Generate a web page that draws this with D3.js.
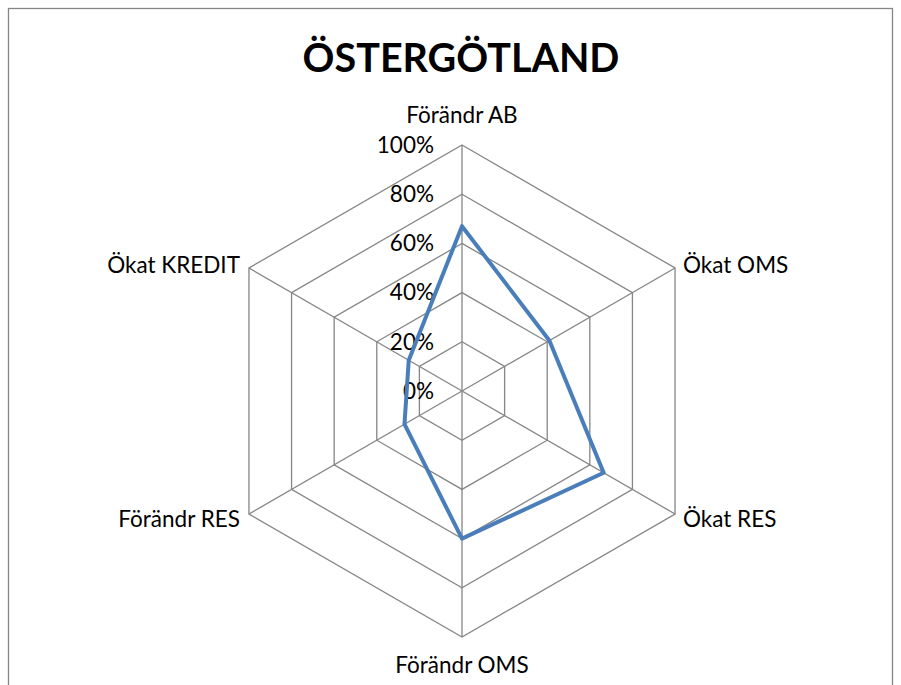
<!DOCTYPE html>
<html><head><meta charset="utf-8">
<script src="https://cdn.jsdelivr.net/npm/d3@7"></script>
<style>body{margin:0;background:#fff}</style>
</head><body>
<svg id="chart" width="901" height="685"></svg>
<script>
const title = "ÖSTERGÖTLAND";
const categories = ["Förändr AB","Ökat OMS","Ökat RES","Förändr OMS","Förändr RES","Ökat KREDIT"];
const values = [0.67, 0.41, 0.665, 0.60, 0.27, 0.25];
const tickValues = [0, 0.2, 0.4, 0.6, 0.8, 1.0];
const tickLabels = ["0%","20%","40%","60%","80%","100%"];

const svg = d3.select("#chart");
const font = "Lato, 'Open Sans', sans-serif";
const cx = 462, cy = 391, R = 246;
const fs = 22.5;
const r = d3.scaleLinear().domain([0,1]).range([0,R]);
const ang = d3.scalePoint().domain(categories).range([0, 2*Math.PI*(categories.length-1)/categories.length]);
const pt = (c, v) => [cx + r(v)*Math.sin(ang(c)), cy - r(v)*Math.cos(ang(c))];

svg.append("rect").attr("x",8.5).attr("y",8.5).attr("width",884).attr("height",690)
  .attr("fill","#fff").attr("stroke","#868686").attr("stroke-width",1.3);

svg.append("text").attr("x",461).attr("y",72).attr("text-anchor","middle")
  .attr("font-family",font).attr("font-weight","bold").attr("font-size",39.5).text(title);

const g = svg.append("g");
// rings
tickValues.slice(1).forEach(t => {
  g.append("polygon").attr("points", categories.map(c => pt(c,t).join(",")).join(" "))
    .attr("fill","none").attr("stroke","#868686").attr("stroke-width",1.3);
});
// spokes
categories.forEach(c => {
  const p = pt(c,1);
  g.append("line").attr("x1",cx).attr("y1",cy).attr("x2",p[0]).attr("y2",p[1])
    .attr("stroke","#868686").attr("stroke-width",1.3);
});
// tick labels
tickValues.forEach((t,i) => {
  g.append("text").attr("x",434).attr("y",cy - r(t)).attr("dy","0.35em").attr("text-anchor","end")
    .attr("font-family",font).attr("font-size",fs).attr("fill","#000").text(tickLabels[i]);
});
// series
const line = d3.line().curve(d3.curveLinearClosed);
g.append("path").attr("d", line(categories.map((c,i) => pt(c, values[i]))))
  .attr("fill","none").attr("stroke","#4a7ebb").attr("stroke-width",4).attr("stroke-linejoin","round");

// category labels
categories.forEach(c => {
  const a = ang(c);
  const p = pt(c,1);
  const s = Math.sin(a), co = Math.cos(a);
  let x = p[0], y = p[1], anchor = "middle", dy = "0.35em";
  if (Math.abs(s) < 0.01) {
    if (co > 0) { y = p[1] - 30; } else { y = p[1] + 28; }
  } else {
    y = co > 0 ? p[1] - 3 : p[1] + 5;
    if (s > 0) { x = p[0] + 8; anchor = "start"; }
    else { x = p[0] - 9; anchor = "end"; }
  }
  g.append("text").attr("x",x).attr("y",y).attr("dy",dy).attr("text-anchor",anchor)
    .attr("font-family",font).attr("font-size",fs).attr("fill","#000").text(c);
});
</script>
</body></html>
